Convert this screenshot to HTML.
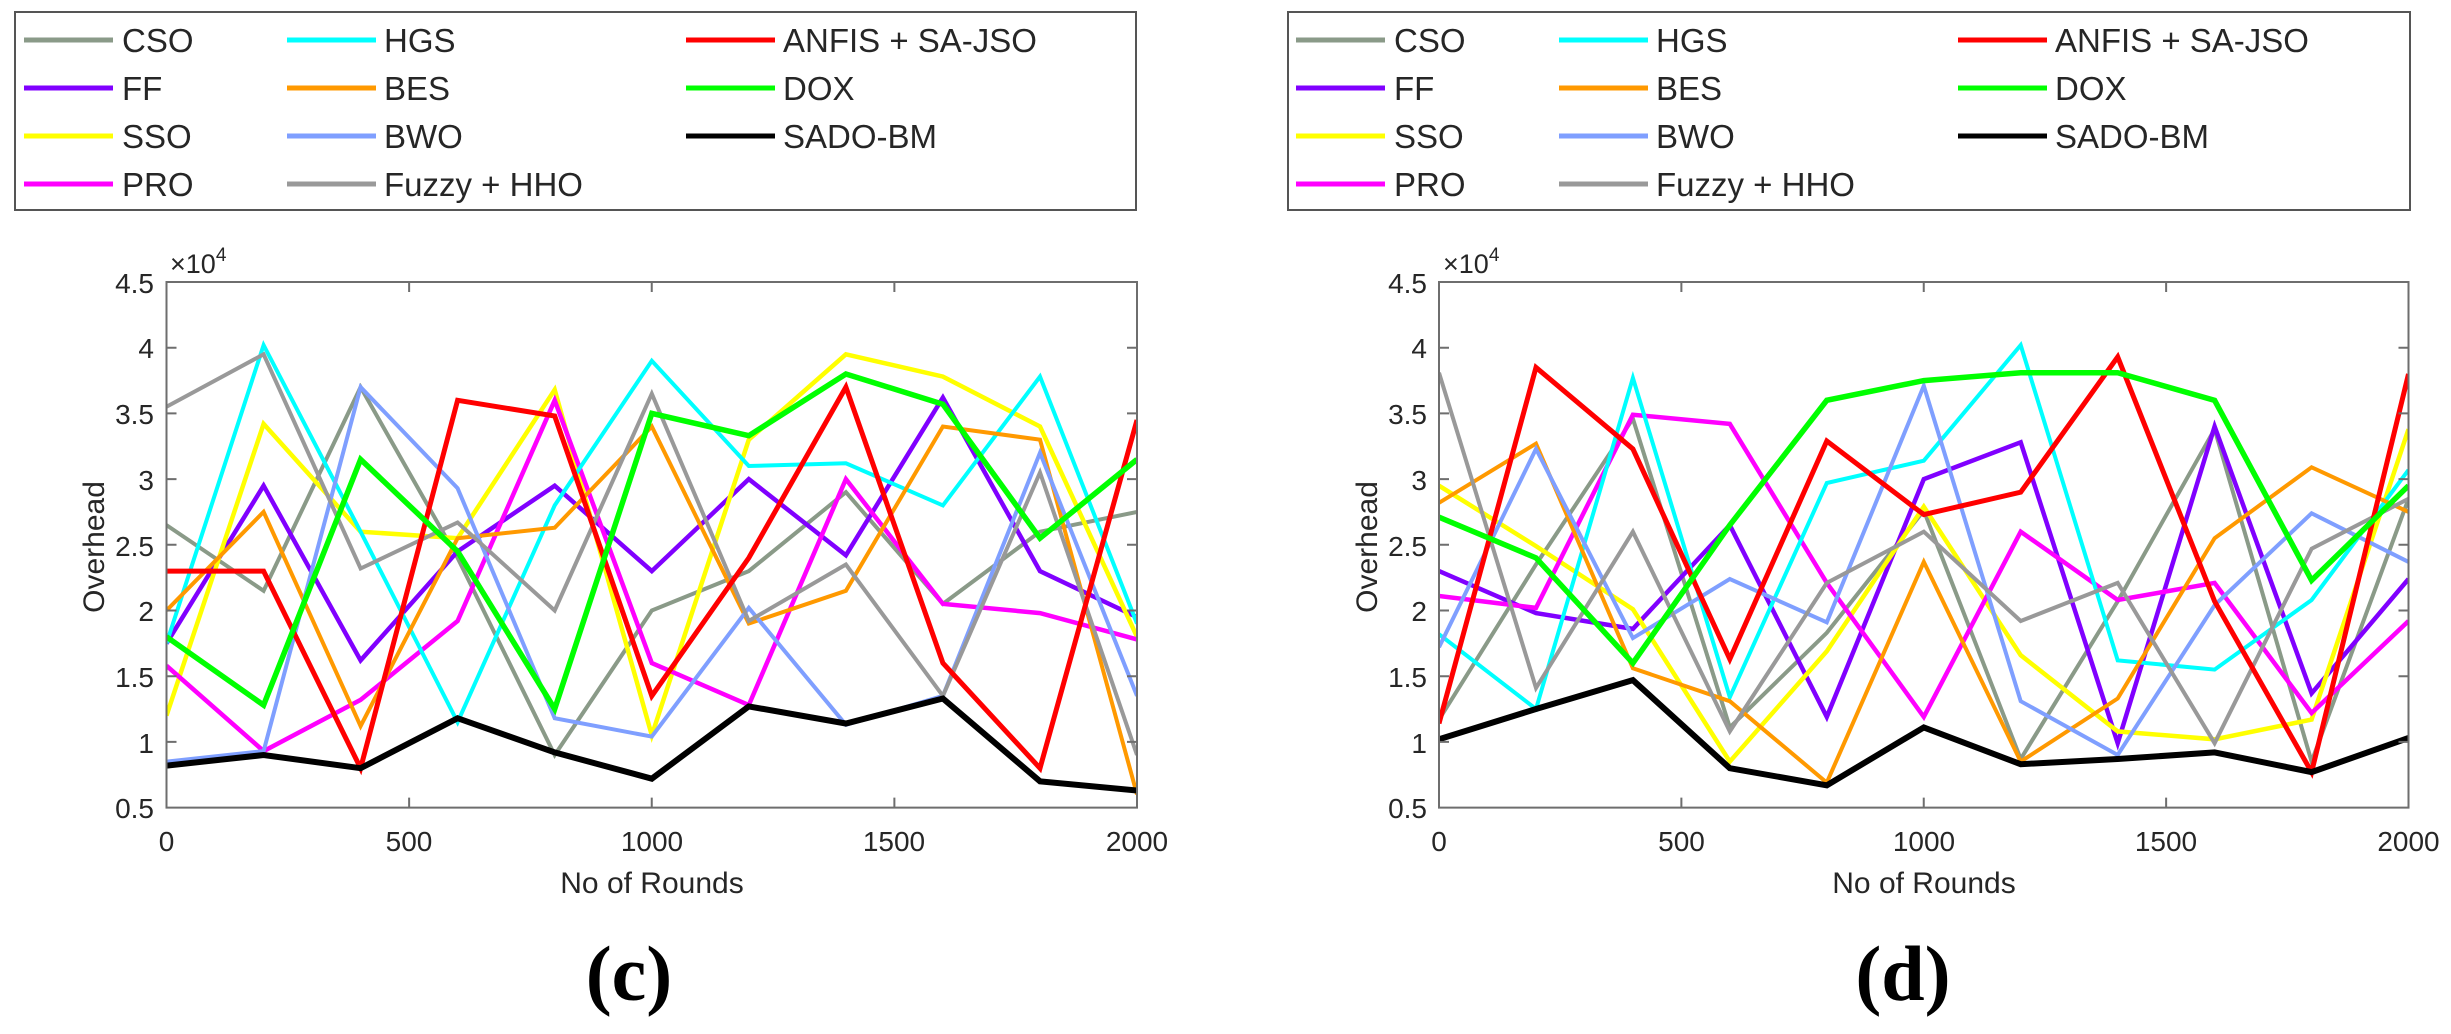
<!DOCTYPE html>
<html><head><meta charset="utf-8"><style>
html,body{margin:0;padding:0;background:#fff;}
svg{display:block;}
text{font-family:"Liberation Sans",Arial,sans-serif;fill:#262626;}
</style></head><body>
<svg id="s" width="2451" height="1034" viewBox="0 0 2451 1034" xmlns="http://www.w3.org/2000/svg">
<rect width="2451" height="1034" fill="#fff"/>
<!-- Legend left -->
<g>
<rect x="15" y="12" width="1121" height="198" fill="#fff" stroke="#555" stroke-width="2"/>
<g stroke-width="5">
<line x1="24" y1="40" x2="113" y2="40" stroke="#8a9a88"/>
<line x1="24" y1="88" x2="113" y2="88" stroke="#8000ff"/>
<line x1="24" y1="136" x2="113" y2="136" stroke="#ffff00"/>
<line x1="24" y1="184" x2="113" y2="184" stroke="#ff00ff"/>
<line x1="287" y1="40" x2="376" y2="40" stroke="#00ffff"/>
<line x1="287" y1="88" x2="376" y2="88" stroke="#ff9900"/>
<line x1="287" y1="136" x2="376" y2="136" stroke="#7f9fff"/>
<line x1="287" y1="184" x2="376" y2="184" stroke="#999999"/>
<line x1="686" y1="40" x2="775" y2="40" stroke="#ff0000"/>
<line x1="686" y1="88" x2="775" y2="88" stroke="#00ff00"/>
<line x1="686" y1="136" x2="775" y2="136" stroke="#000000"/>
</g>
<g font-size="33">
<text x="122" y="52" fill="#000">CSO</text>
<text x="122" y="100" fill="#000">FF</text>
<text x="122" y="148" fill="#000">SSO</text>
<text x="122" y="196" fill="#000">PRO</text>
<text x="384" y="52" fill="#000">HGS</text>
<text x="384" y="100" fill="#000">BES</text>
<text x="384" y="148" fill="#000">BWO</text>
<text x="384" y="196" fill="#000">Fuzzy + HHO</text>
<text x="783" y="52" fill="#000">ANFIS + SA-JSO</text>
<text x="783" y="100" fill="#000">DOX</text>
<text x="783" y="148" fill="#000">SADO-BM</text>
</g>
</g>
<!-- Legend right -->
<g transform="translate(1272,0)">
<rect x="16" y="12" width="1122" height="198" fill="#fff" stroke="#555" stroke-width="2"/>
<g stroke-width="5">
<line x1="24" y1="40" x2="113" y2="40" stroke="#8a9a88"/>
<line x1="24" y1="88" x2="113" y2="88" stroke="#8000ff"/>
<line x1="24" y1="136" x2="113" y2="136" stroke="#ffff00"/>
<line x1="24" y1="184" x2="113" y2="184" stroke="#ff00ff"/>
<line x1="287" y1="40" x2="376" y2="40" stroke="#00ffff"/>
<line x1="287" y1="88" x2="376" y2="88" stroke="#ff9900"/>
<line x1="287" y1="136" x2="376" y2="136" stroke="#7f9fff"/>
<line x1="287" y1="184" x2="376" y2="184" stroke="#999999"/>
<line x1="686" y1="40" x2="775" y2="40" stroke="#ff0000"/>
<line x1="686" y1="88" x2="775" y2="88" stroke="#00ff00"/>
<line x1="686" y1="136" x2="775" y2="136" stroke="#000000"/>
</g>
<g font-size="33">
<text x="122" y="52" fill="#000">CSO</text>
<text x="122" y="100" fill="#000">FF</text>
<text x="122" y="148" fill="#000">SSO</text>
<text x="122" y="196" fill="#000">PRO</text>
<text x="384" y="52" fill="#000">HGS</text>
<text x="384" y="100" fill="#000">BES</text>
<text x="384" y="148" fill="#000">BWO</text>
<text x="384" y="196" fill="#000">Fuzzy + HHO</text>
<text x="783" y="52" fill="#000">ANFIS + SA-JSO</text>
<text x="783" y="100" fill="#000">DOX</text>
<text x="783" y="148" fill="#000">SADO-BM</text>
</g>
</g>

<!-- Left axes text -->
<g font-size="28" text-anchor="end">
<text x="154" y="293">4.5</text><text x="154" y="358">4</text><text x="154" y="424">3.5</text><text x="154" y="490">3</text><text x="154" y="556">2.5</text><text x="154" y="621">2</text><text x="154" y="687">1.5</text><text x="154" y="753">1</text><text x="154" y="818">0.5</text>
</g>
<g font-size="28" text-anchor="middle">
<text x="166.5" y="851">0</text><text x="409" y="851">500</text><text x="652" y="851">1000</text><text x="894" y="851">1500</text><text x="1137" y="851">2000</text>
<text x="652" y="893" font-size="30">No of Rounds</text>
<text transform="translate(104,547) rotate(-90)" font-size="30">Overhead</text>
</g>
<text x="170" y="273" font-size="27">×10<tspan font-size="19" dy="-12">4</tspan></text>
<text x="629" y="1000" font-size="78" font-weight="bold" text-anchor="middle" style="font-family:'Liberation Serif',serif;fill:#000">(c)</text>

<!-- Right axes text -->
<g font-size="28" text-anchor="end">
<text x="1427" y="293">4.5</text><text x="1427" y="358">4</text><text x="1427" y="424">3.5</text><text x="1427" y="490">3</text><text x="1427" y="556">2.5</text><text x="1427" y="621">2</text><text x="1427" y="687">1.5</text><text x="1427" y="753">1</text><text x="1427" y="818">0.5</text>
</g>
<g font-size="28" text-anchor="middle">
<text x="1439" y="851">0</text><text x="1681.5" y="851">500</text><text x="1924" y="851">1000</text><text x="2166" y="851">1500</text><text x="2408.5" y="851">2000</text>
<text x="1924" y="893" font-size="30">No of Rounds</text>
<text transform="translate(1377,547) rotate(-90)" font-size="30">Overhead</text>
</g>
<text x="1443" y="273" font-size="27">×10<tspan font-size="19" dy="-12">4</tspan></text>
<text x="1903" y="1000" font-size="78" font-weight="bold" text-anchor="middle" style="font-family:'Liberation Serif',serif;fill:#000">(d)</text>

<g id="plots"></g>
</svg>
<script>
(function(){
var NS="http://www.w3.org/2000/svg";
var g=document.getElementById("plots");
var top=282,bot=807.6;
function Y(v){return bot-(v-0.5)*(bot-top)/4;}
var order=[
["#8a9a88",4],["#8000ff",4.5],["#ffff00",4.5],["#ff00ff",4.5],["#00ffff",4],["#ff9900",4],["#7f9fff",4],["#999999",4],["#ff0000",5],["#00ff00",5.5],["#000000",6]];
var L=[
[2.65,2.15,3.7,2.4,0.9,2.0,2.3,2.9,2.05,2.6,2.75],
[1.75,2.95,1.62,2.45,2.95,2.3,3.0,2.42,3.62,2.3,1.95],
[1.2,3.42,2.6,2.55,3.68,1.05,3.3,3.95,3.78,3.4,1.8],
[1.58,0.93,1.32,1.92,3.6,1.6,1.28,3.0,2.05,1.98,1.78],
[1.75,4.02,2.6,1.15,2.8,3.9,3.1,3.12,2.8,3.78,1.9],
[2.0,2.75,1.12,2.55,2.63,3.4,1.9,2.15,3.4,3.3,0.6],
[0.85,0.93,3.7,2.93,1.18,1.04,2.02,1.13,1.35,3.2,1.35],
[3.55,3.95,2.32,2.67,2.0,3.65,1.92,2.35,1.35,3.05,0.9],
[2.3,2.3,0.8,3.6,3.48,1.35,2.4,3.7,1.6,0.8,3.45],
[1.8,1.28,3.15,2.45,1.25,3.5,3.33,3.8,3.57,2.55,3.15],
[0.82,0.9,0.8,1.18,0.92,0.72,1.27,1.14,1.33,0.7,0.63]];
var R=[
[1.17,2.35,3.46,1.11,1.83,2.76,0.87,2.07,3.38,0.85,2.85],
[2.3,1.98,1.86,2.65,1.19,3.0,3.28,0.99,3.4,1.37,2.24],
[2.95,2.49,2.01,0.85,1.69,2.79,1.66,1.08,1.02,1.17,3.38],
[2.11,2.02,3.49,3.42,2.21,1.19,2.6,2.08,2.21,1.22,1.92],
[1.82,1.25,3.77,1.34,2.97,3.14,4.02,1.62,1.55,2.08,3.07],
[2.82,3.27,1.56,1.31,0.69,2.37,0.85,1.33,2.55,3.09,2.75],
[1.72,3.23,1.79,2.24,1.91,3.71,1.31,0.9,2.04,2.74,2.37],
[3.81,1.41,2.6,1.08,2.21,2.6,1.92,2.21,0.99,2.47,2.85],
[1.14,3.85,3.23,1.63,3.29,2.73,2.9,3.93,2.07,0.77,3.8],
[2.71,2.4,1.6,2.65,3.6,3.75,3.81,3.81,3.6,2.23,2.95],
[1.02,1.25,1.47,0.8,0.67,1.11,0.83,0.87,0.92,0.77,1.03]];
function panel(x0,x1,data){
 var cp=document.createElementNS(NS,"clipPath");var id="c"+Math.round(x0);cp.setAttribute("id",id);
 var cr=document.createElementNS(NS,"rect");cr.setAttribute("x",x0);cr.setAttribute("y",top);cr.setAttribute("width",x1-x0);cr.setAttribute("height",bot-top);cp.appendChild(cr);g.appendChild(cp);
 var gg=document.createElementNS(NS,"g");gg.setAttribute("clip-path","url(#"+id+")");g.appendChild(gg);
 for(var k=0;k<data.length;k++){
  var pts=data[k].map(function(v,i){return (x0+i*(x1-x0)/10).toFixed(1)+","+Y(v).toFixed(1);}).join(" ");
  var p=document.createElementNS(NS,"polyline");p.setAttribute("points",pts);p.setAttribute("fill","none");
  p.setAttribute("stroke",order[k][0]);p.setAttribute("stroke-width",order[k][1]);p.setAttribute("stroke-linejoin","miter");
  gg.appendChild(p);
 }
 var d="M"+x0+" "+top+"H"+x1+"V"+bot+"H"+x0+"Z";
 for(var i=1;i<4;i++){var x=x0+i*(x1-x0)/4;d+="M"+x+" "+bot+"v-10M"+x+" "+top+"v10";}
 for(var j=1;j<8;j++){var y=top+j*(bot-top)/8;d+="M"+x0+" "+y+"h10M"+x1+" "+y+"h-10";}
 var a=document.createElementNS(NS,"path");a.setAttribute("d",d);a.setAttribute("fill","none");a.setAttribute("stroke","#6e6e6e");a.setAttribute("stroke-width","2");g.appendChild(a);
}
panel(166.5,1137,L);
panel(1439,2408.5,R);
})();
</script>
</body></html>
